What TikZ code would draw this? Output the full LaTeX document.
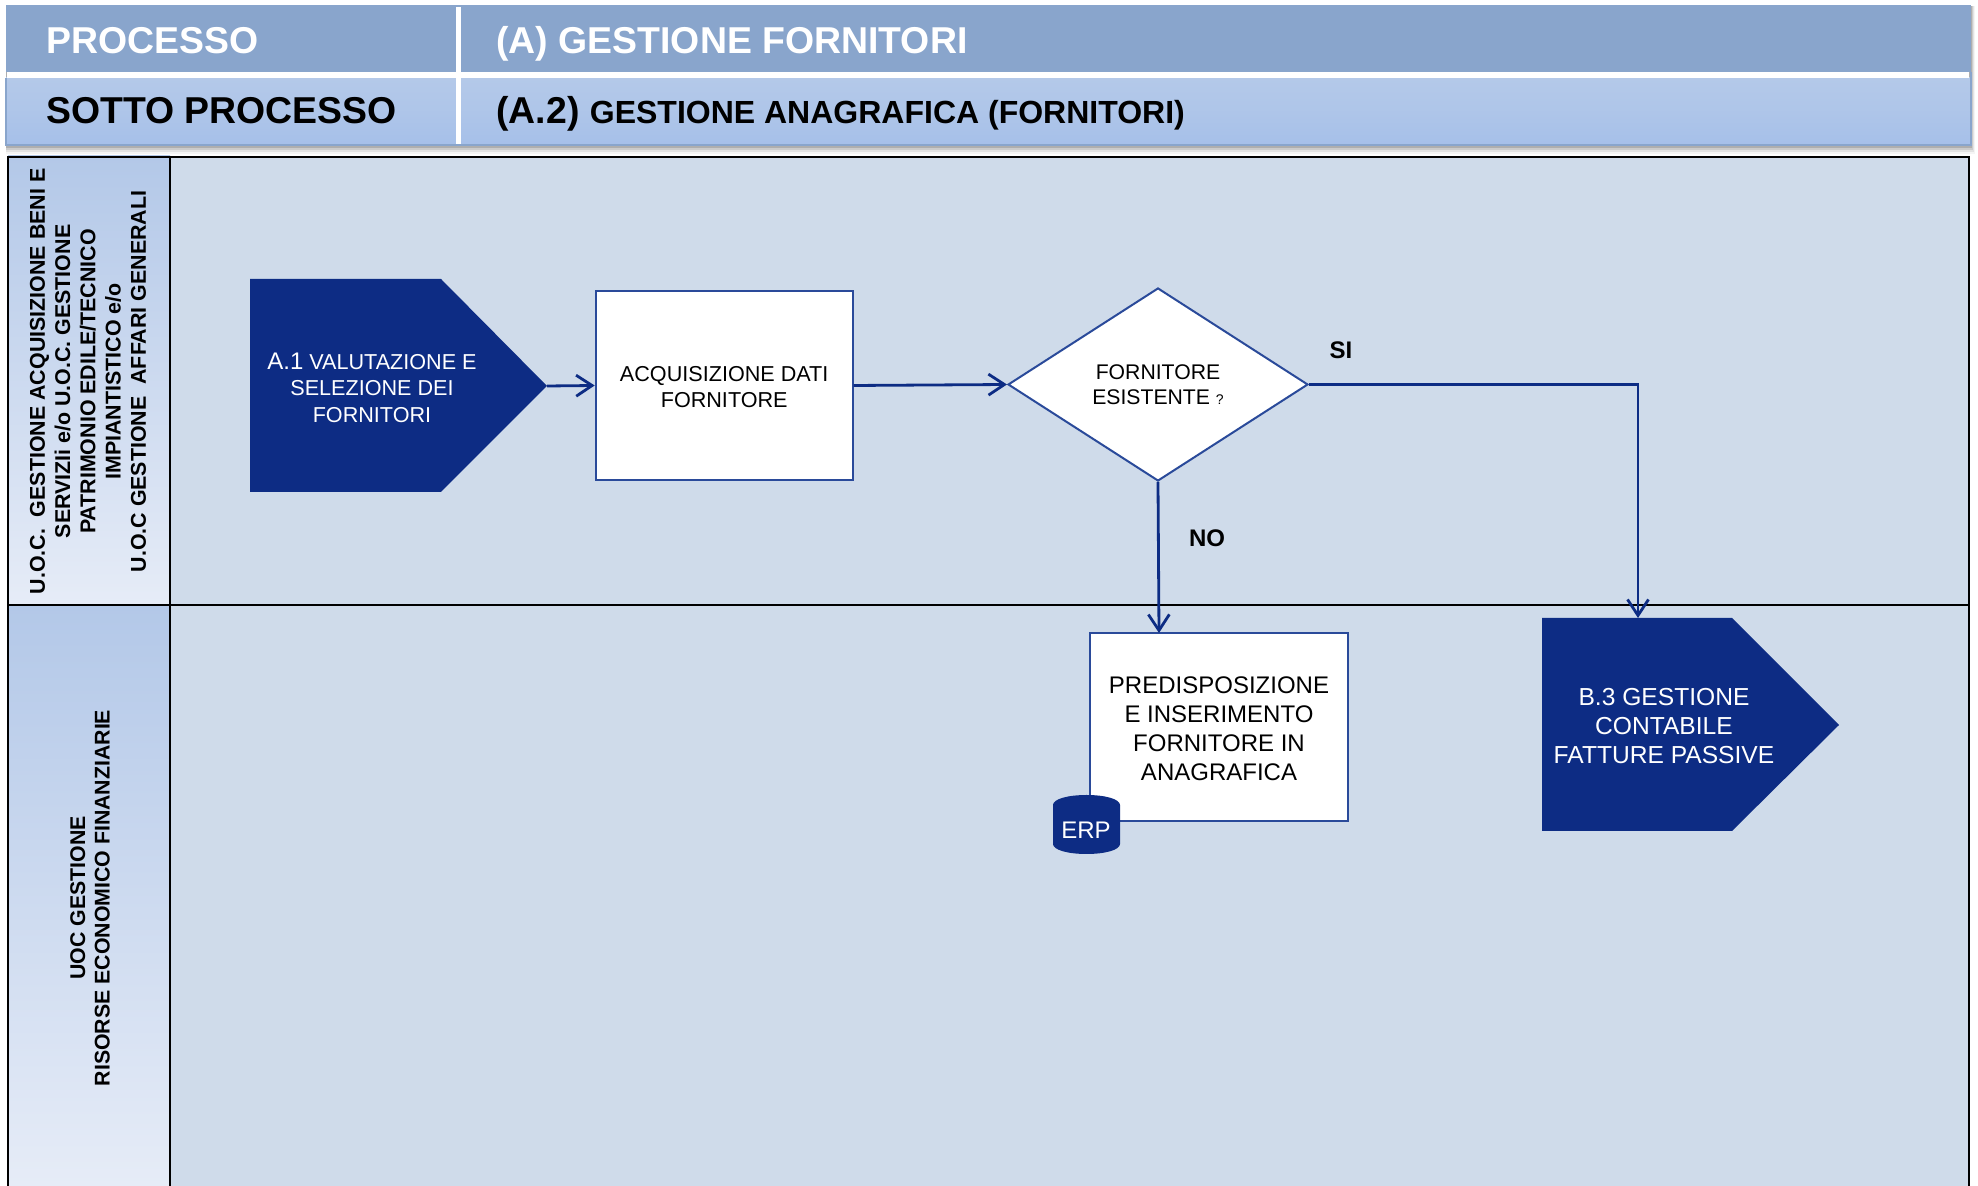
\documentclass[tikz,border=0pt]{standalone}
\usepackage{fontspec}
\setmainfont{Liberation Sans}
\usetikzlibrary{arrows.meta,shapes.geometric}
\definecolor{navy}{HTML}{0D2C84}
\definecolor{edgeblue}{HTML}{2A4A9A}
\definecolor{hdrdark}{HTML}{89A5CC}
\definecolor{hdrlighttop}{HTML}{B4C9E9}
\definecolor{hdrlightbot}{HTML}{A6C0E9}
\definecolor{lanebg}{HTML}{CFDBEA}
\definecolor{lanetop}{HTML}{B3C8E8}
\definecolor{lanebot}{HTML}{E6ECF7}
\newcommand{\lowerby}[1]{\rule{0pt}{#1}}
\tikzset{
  x=0.5pt,y=-0.5pt,
  headtext/.style={anchor=base west,font=\bfseries\fontsize{18.7}{20}\selectfont,inner sep=0pt},
  whitebox/.style={draw=edgeblue,line width=1pt,fill=white,align=center,inner sep=0pt},
  flow/.style={draw=navy,line width=1.4pt,-{Straight Barb[length=8pt,width=10.5pt,line width=1.4pt]}},
  label/.style={font=\bfseries\fontsize{12}{14}\selectfont,inner sep=0pt},
  darkshape/.style={fill=navy,draw=none},
  lanelabel/.style={rotate=90,align=center,inner sep=0pt,font=\bfseries},
}
\begin{document}
\begin{tikzpicture}
\useasboundingbox (0,0) rectangle (1978,1186);
\fill[white] (0,0) rectangle (1978,1186);
% header shadow
\foreach \o/\a in {9/0.04,7/0.07,5/0.10,3/0.14}{
  \fill[black,opacity=\a] (6,6) rectangle (1971+\o*0.4,145+\o);
}
\fill[hdrdark] (6,5) rectangle (1971,72);
\shade[top color=hdrlighttop,bottom color=hdrlightbot,middle color=hdrlighttop!60!hdrlightbot] (6,78) rectangle (1971,144);
\fill[white] (7,72) rectangle (1969,78);
\fill[white] (456,7) rectangle (461,144);
\draw[hdrdark,line width=0.7pt] (1971,72) -- (1971,145) -- (6,145) -- (6,78);
\node[headtext,text=white] (proc) at (46,53.5) {PROCESSO};
\node[headtext,text=white] (proct) at (496,53.5) {(A) GESTIONE FORNITORI};
\node[headtext] (sub) at (46,124) {SOTTO PROCESSO};
\node[headtext] (subt) at (496,124) {(A.2) {\fontsize{16}{18}\selectfont GESTIONE ANAGRAFICA (FORNITORI)}};
% lanes
\fill[lanebg] (170,156) rectangle (1969,1186);
\shade[top color=lanetop,bottom color=lanebot] (8,156) rectangle (170,605);
\shade[top color=lanetop,bottom color=lanebot] (8,605) rectangle (170,1186);
\draw[black,line width=1.4pt] (8,1186) -- (8,157) -- (1969,157) -- (1969,1186);
\draw[black,line width=1.4pt] (170,157) -- (170,1186);
\draw[black,line width=1.4pt] (8,605) -- (1969,605);
\node[lanelabel,font=\bfseries\fontsize{10.7}{12.6}\selectfont] (lane1) at (88,381.5) {U.O.C.\ \ GESTIONE ACQUISIZIONE BENI E\\SERVIZIi e/o U.O.C. GESTIONE\\PATRIMONIO EDILE/TECNICO\\IMPIANTISTICO e/o\\U.O.C GESTIONE\ \ AFFARI GENERALI};
\node[lanelabel,font=\bfseries\fontsize{10.65}{12.2}\selectfont] (lane2) at (90,898) {UOC GESTIONE\\RISORSE ECONOMICO FINANZIARIE};
% A.1
\coordinate (a1tip) at (547,386);
\fill[darkshape] (250,279) -- (441,279) -- (a1tip) -- (441,492) -- (250,492) -- cycle;
\node[text=white,align=center,inner sep=0pt,font=\fontsize{10.8}{13.2}\selectfont] (a1) at (372,387.5) {{\fontsize{12}{13.2}\selectfont A.1} VALUTAZIONE E\\SELEZIONE DEI\\FORNITORI};
% box 1
\node[whitebox,minimum width=128.5pt,minimum height=94.5pt,font=\fontsize{10.8}{13}\selectfont] (acq) at (724.2,385.5) {\lowerby{9.2pt}ACQUISIZIONE DATI\\FORNITORE};
% diamond
\node[diamond,draw=edgeblue,line width=1pt,fill=white,align=center,inner sep=0pt,minimum width=150pt,minimum height=96.5pt,font=\fontsize{10.6}{12.4}\selectfont] (dec) at (1158,384.5) {FORNITORE\\ESISTENTE {\fontsize{7}{8}\selectfont ?}};
% box 2
\node[whitebox,minimum width=129pt,minimum height=94pt,font=\fontsize{12}{14.5}\selectfont] (pre) at (1219,727) {\lowerby{9.9pt}PREDISPOSIZIONE\\E INSERIMENTO\\FORNITORE IN\\ANAGRAFICA};
\fill[navy] (1053,805) .. controls (1053,799) and (1068,795) .. (1086.5,795)
  .. controls (1105,795) and (1120,799) .. (1120,805)
  -- (1120,844) .. controls (1120,850) and (1105,854) .. (1086.5,854)
  .. controls (1068,854) and (1053,850) .. (1053,844) -- cycle;
\node[text=white,font=\fontsize{12}{14}\selectfont,inner sep=0pt] (erpt) at (1086,830.5) {ERP};
% B.3
\coordinate (b3top) at (1638,618);
\fill[darkshape] (1542,618) -- (1732,618) -- (1839,725) -- (1732,831) -- (1542,831) -- cycle;
\node[text=white,align=center,inner sep=0pt,font=\fontsize{12.3}{14.5}\selectfont] (b3) at (1664,726) {B.3 GESTIONE\\CONTABILE\\FATTURE PASSIVE};
% connectors
\draw[flow] (a1tip) -- (acq.west);
\draw[flow] (acq.east) -- (dec.west);
\draw[flow] (dec.east) -| (b3top);
\coordinate (pretop) at (1159,633);
\draw[flow] (dec.south) -- (pretop);
% labels
\node[label] (si) at (1341,350) {SI};
\node[label] (no) at (1207,538) {NO};
\end{tikzpicture}
\end{document}
